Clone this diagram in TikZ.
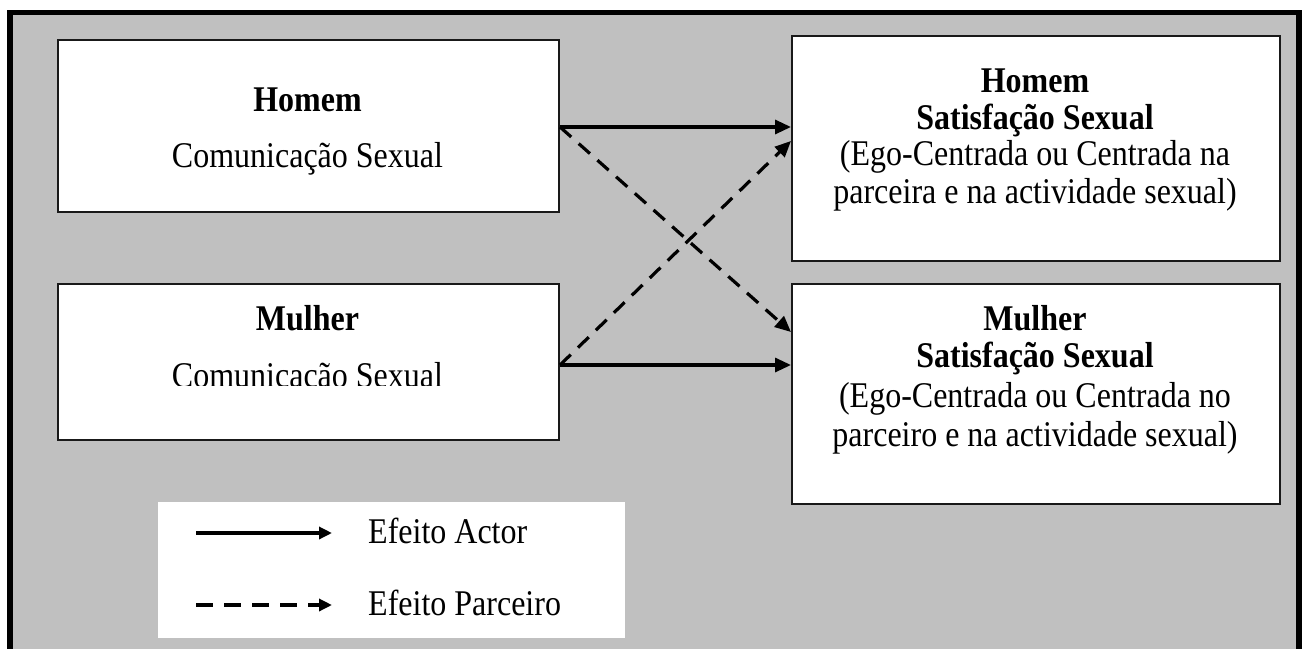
\documentclass[tikz,border=0pt]{standalone}
\usepackage{fontspec}
\setmainfont{Liberation Serif}
\usetikzlibrary{arrows.meta,calc}
\definecolor{panel}{RGB}{192,192,192}
\definecolor{edge}{RGB}{25,25,25}
% the lettering is set slightly taller than wide
\newcommand\tallface[1]{\scalebox{1}[1.13]{#1}}
\begin{document}
\begin{tikzpicture}[x=1pt,y=-1pt,
  box/.style={draw=edge, line width=2pt, fill=white, inner sep=0pt, anchor=north west},
  keybox/.style={fill=white, inner sep=0pt, anchor=north west},
  lbl/.style={anchor=base, inner sep=0pt, font=\fontsize{32}{37}\selectfont},
  actor/.style={line width=3.2pt, -{Triangle[length=16pt,width=14pt]}},
  partner/.style={actor, dash pattern=on 15pt off 10pt},
  keyline/.style={line width=3.8pt, -{Triangle[length=13pt,width=12pt]}},
]
\useasboundingbox (0,0) rectangle (1306,648);
\fill[white] (0,0) rectangle (1306,648);
% grey panel with heavy frame
\draw[line width=5.5pt, fill=panel] (10,12.5) rectangle (1299,670);

% boxes
\node[box, minimum width=501pt, minimum height=172pt] (hc) at (57,39) {};
\node[box, minimum width=501pt, minimum height=156pt] (mc) at (57,283) {};
\node[box, minimum width=488pt, minimum height=225pt] (hs) at (791,35) {};
\node[box, minimum width=488pt, minimum height=220pt] (ms) at (791,283) {};
\node[keybox, minimum width=467pt, minimum height=136pt] (key) at (158,502) {};

% texts of the left boxes
\node[lbl] (hct1) at (307.5,111) {\tallface{\textbf{Homem}}};
\node[lbl] (hct2) at (307.5,167) {\tallface{Comunicação Sexual}};
\node[lbl] (mct1) at (307.5,330) {\tallface{\textbf{Mulher}}};
\begin{scope}
  \clip (57,283) rectangle (558,385);
  \node[lbl] (mct2) at (307.5,387) {\tallface{Comunicação Sexual}};
\end{scope}

% texts of the right boxes
\node[lbl] (hst1) at (1035,92) {\tallface{\textbf{Homem}}};
\node[lbl] (hst2) at (1035,129) {\tallface{\textbf{Satisfação Sexual}}};
\node[lbl] (hst3) at (1035,165) {\tallface{(Ego-Centrada ou Centrada na}};
\node[lbl] (hst4) at (1035,203) {\tallface{parceira e na actividade sexual)}};
\node[lbl] (mst1) at (1035,330) {\tallface{\textbf{Mulher}}};
\node[lbl] (mst2) at (1035,367) {\tallface{\textbf{Satisfação Sexual}}};
\node[lbl] (mst3) at (1035,407) {\tallface{(Ego-Centrada ou Centrada no}};
\node[lbl] (mst4) at (1035,446) {\tallface{parceiro e na actividade sexual)}};

% end points of the effects
\coordinate (hcOut) at ($(hc.north east)+(0,88)$);
\coordinate (mcOut) at ($(mc.north east)+(0,82)$);
\coordinate (hsIn1) at ($(hs.north west)+(0,92)$);
\coordinate (hsIn2) at ($(hs.north west)+(0,106)$);
\coordinate (msIn1) at ($(ms.north west)+(0,49)$);
\coordinate (msIn2) at ($(ms.north west)+(0,82)$);

\draw[actor] (hcOut) -- (hsIn1);
\draw[partner] (hcOut) -- (msIn1);
\draw[partner] (mcOut) -- (hsIn2);
\draw[actor] (mcOut) -- (msIn2);

% legend
\coordinate (k1a) at ($(key.north west)+(38,31)$);
\coordinate (k1b) at ($(key.north west)+(174,31)$);
\coordinate (k2a) at ($(key.north west)+(38,103)$);
\coordinate (k2b) at ($(key.north west)+(174,103)$);
\draw[keyline] (k1a) -- (k1b);
\draw[keyline, dash pattern=on 17pt off 11pt] (k2a) -- (k2b);
\node[lbl, anchor=base west] (kt1) at (368,543) {\tallface{Efeito Actor}};
\node[lbl, anchor=base west] (kt2) at (368,615) {\tallface{Efeito Parceiro}};
\end{tikzpicture}
\end{document}
